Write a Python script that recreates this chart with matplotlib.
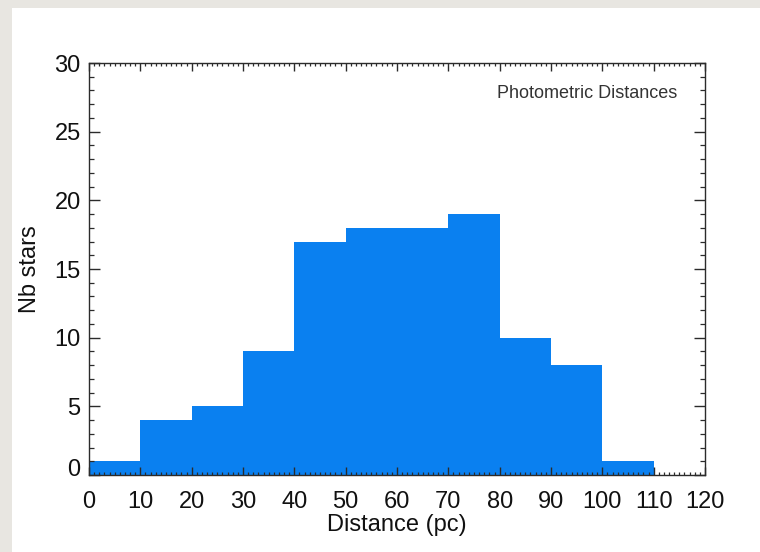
import matplotlib
matplotlib.use("Agg")
import matplotlib.pyplot as plt
from matplotlib.patches import Rectangle
from matplotlib.ticker import MultipleLocator
from matplotlib.transforms import ScaledTranslation

plt.rcParams['font.family'] = ['Liberation Sans', 'DejaVu Sans']

# Histogram of photometric distances (bin edges in pc, counts per bin)
bin_left = [0, 10, 20, 30, 40, 50, 60, 70, 80, 90, 100, 110]
bin_width = 10
counts = [1, 4, 5, 9, 17, 18, 18, 19, 10, 8, 1, 0]

x_ticks = [0, 10, 20, 30, 40, 50, 60, 70, 80, 90, 100, 110, 120]
y_ticks = [0, 5, 10, 15, 20, 25, 30]

bar_color = '#0a80f0'
ink = '#2b2b2b'

fig = plt.figure(figsize=(7.6, 5.52), dpi=100, facecolor='#e8e6e1')
# white page area, kept behind the axes
fig.patches.append(Rectangle((12 / 760, 0), 1 - 12 / 760, 1 - 8 / 552,
                             transform=fig.transFigure, facecolor='white',
                             edgecolor='none', zorder=-10))

ax = fig.add_axes([89 / 760, 1 - 475 / 552, (705 - 89) / 760, (475 - 63) / 552])
ax.set_zorder(1)
ax.set_facecolor('white')

ax.bar(bin_left, counts, width=bin_width, align='edge', color=bar_color,
       edgecolor='none', linewidth=0)

ax.set_xlim(0, 120)
ax.set_ylim(0, 30)
ax.set_xticks(x_ticks)
ax.set_yticks(y_ticks)
ax.xaxis.set_minor_locator(MultipleLocator(1))
ax.yaxis.set_minor_locator(MultipleLocator(1))

ax.tick_params(axis='both', which='both', direction='in', top=True, right=True,
               color=ink, labelcolor='#111111', labelsize=17)
ax.tick_params(axis='x', which='major', length=6, width=1, pad=11.5)
ax.tick_params(axis='x', which='minor', length=2.5, width=0.9)
ax.tick_params(axis='y', which='major', length=8, width=1, pad=6)
ax.tick_params(axis='y', which='minor', length=3.6, width=0.9)

for s in ax.spines.values():
    s.set_color(ink)
    s.set_linewidth(1.0)

ax.set_xlabel('Distance (pc)', fontsize=17, color='#111111', labelpad=0.5)
ax.set_ylabel('Nb stars', fontsize=17, color='#111111', labelpad=10)

ax.text(0.955, 0.927, 'Photometric Distances', transform=ax.transAxes,
        ha='right', va='center', fontsize=13, color='#333333')

# lift the "0" label a little so it clears the x-axis labels
fig.canvas.draw()
zero_label = ax.get_yticklabels()[0]
zero_label.set_transform(zero_label.get_transform() +
                         ScaledTranslation(0, 7 / 100, fig.dpi_scale_trans))

fig.savefig('out.png', dpi=100, facecolor=fig.get_facecolor())
